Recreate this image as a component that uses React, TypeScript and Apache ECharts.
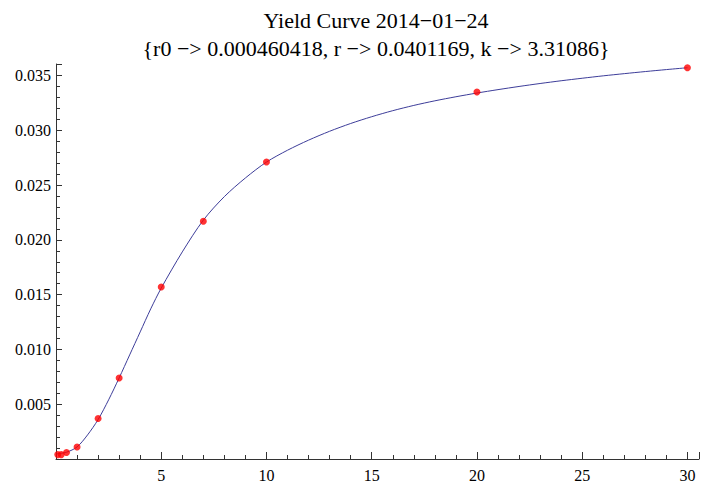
import React, { useEffect, useRef } from "react";
import * as echarts from "echarts";

const TITLE_LINE_1 = "Yield Curve 2014\u221201\u221224";
const TITLE_LINE_2 = "{r0 \u2212> 0.000460418, r \u2212> 0.0401169, k \u2212> 3.31086}";

// observed yields (maturity in years, yield)
const maturities = [1 / 12, 0.25, 0.5, 1, 2, 3, 5, 7, 10, 20, 30];
const yields = [0.0004, 0.0004, 0.0006, 0.0011, 0.0037, 0.0074, 0.0157, 0.0217, 0.0271, 0.0335, 0.0357];

// fitted curve
const curveT = [0, 0.5, 1, 1.5, 2, 2.5, 3, 3.5, 4, 4.5, 5, 6, 7, 8, 9, 10, 11, 12, 13, 14, 15, 16, 17, 18, 19, 20, 21, 22, 23, 24, 25, 26, 27, 28, 29, 30];
const curveY = [
  0.00046, 0.00062, 0.0011, 0.0022, 0.0036, 0.0054, 0.0074, 0.0095, 0.0116, 0.0137, 0.0156,
  0.0189, 0.0218, 0.02395, 0.02565, 0.0271,
  0.02818, 0.0291, 0.02991, 0.03062, 0.03124, 0.03179, 0.03227, 0.03269, 0.03306, 0.0334,
  0.03371, 0.034, 0.03427, 0.03452, 0.03475, 0.03497, 0.03517, 0.03536, 0.03554, 0.03571,
];

const X_MIN = 0;
const X_MAX = 30.55;
const X_MAJOR = 5;
const Y_MIN = 0;
const Y_MAX = 0.03605;
const Y_MAJOR = 0.005;

const FONT = "'Liberation Serif', 'Times New Roman', serif";
const AXIS_COLOR = "#333";

const isMultiple = (v: number, step: number) => Math.abs(v / step - Math.round(v / step)) < 1e-6;

export default function App() {
  const ref = useRef<HTMLDivElement>(null);
  useEffect(() => {
    if (!ref.current) return;
    const chart = echarts.init(ref.current, null, { renderer: "svg" });
    chart.setOption({
      animation: false,
      title: {
        text: TITLE_LINE_1 + "\n" + TITLE_LINE_2,
        left: 371,
        top: 1,
        textAlign: "center",
        textStyle: {
          fontFamily: FONT,
          fontSize: 22,
          fontWeight: "normal",
          color: "#000",
          lineHeight: 28,
        },
      },
      grid: { left: 56, right: 0, top: 64, bottom: 31 },
      xAxis: {
        type: "value",
        min: X_MIN,
        max: X_MAX,
        interval: X_MAJOR,
        splitLine: { show: false },
        axisLine: { show: true, onZero: false, lineStyle: { color: AXIS_COLOR, width: 1 } },
        axisTick: { show: true, inside: true, length: 7, lineStyle: { color: AXIS_COLOR, width: 1 } },
        minorTick: { show: true, splitNumber: 5, length: 4, lineStyle: { color: AXIS_COLOR, width: 1 } },
        axisLabel: {
          show: true,
          margin: 8,
          fontFamily: FONT,
          fontSize: 16,
          color: "#000",
          formatter: (v: number) => (v > 0 && isMultiple(v, X_MAJOR) ? String(v) : ""),
        },
      },
      yAxis: {
        type: "value",
        min: Y_MIN,
        max: Y_MAX,
        interval: Y_MAJOR,
        splitLine: { show: false },
        axisLine: { show: true, onZero: false, lineStyle: { color: AXIS_COLOR, width: 1 } },
        axisTick: { show: true, inside: true, length: 6, lineStyle: { color: AXIS_COLOR, width: 1 } },
        minorTick: { show: true, splitNumber: 5, length: 4, lineStyle: { color: AXIS_COLOR, width: 1 } },
        axisLabel: {
          show: true,
          margin: 5,
          fontFamily: FONT,
          fontSize: 16,
          color: "#000",
          formatter: (v: number) => (v > 0 && isMultiple(v, Y_MAJOR) ? v.toFixed(3) : ""),
        },
      },
      series: [
        {
          type: "line",
          data: curveT.map((t, i) => [t, curveY[i]]),
          smooth: 0.3,
          showSymbol: false,
          symbol: "none",
          lineStyle: { color: "#3d3d99", width: 1 },
          z: 2,
        },
        {
          type: "scatter",
          data: maturities.map((t, i) => [t, yields[i]]),
          symbol: "circle",
          symbolSize: 7,
          itemStyle: { color: "#ff0000" },
          z: 3,
        },
      ],
    });
    return () => chart.dispose();
  }, []);
  return (
    <div
      ref={ref}
      style={{ position: "fixed", left: 0, top: 0, width: 702, height: 490, background: "#fff" }}
    />
  );
}
